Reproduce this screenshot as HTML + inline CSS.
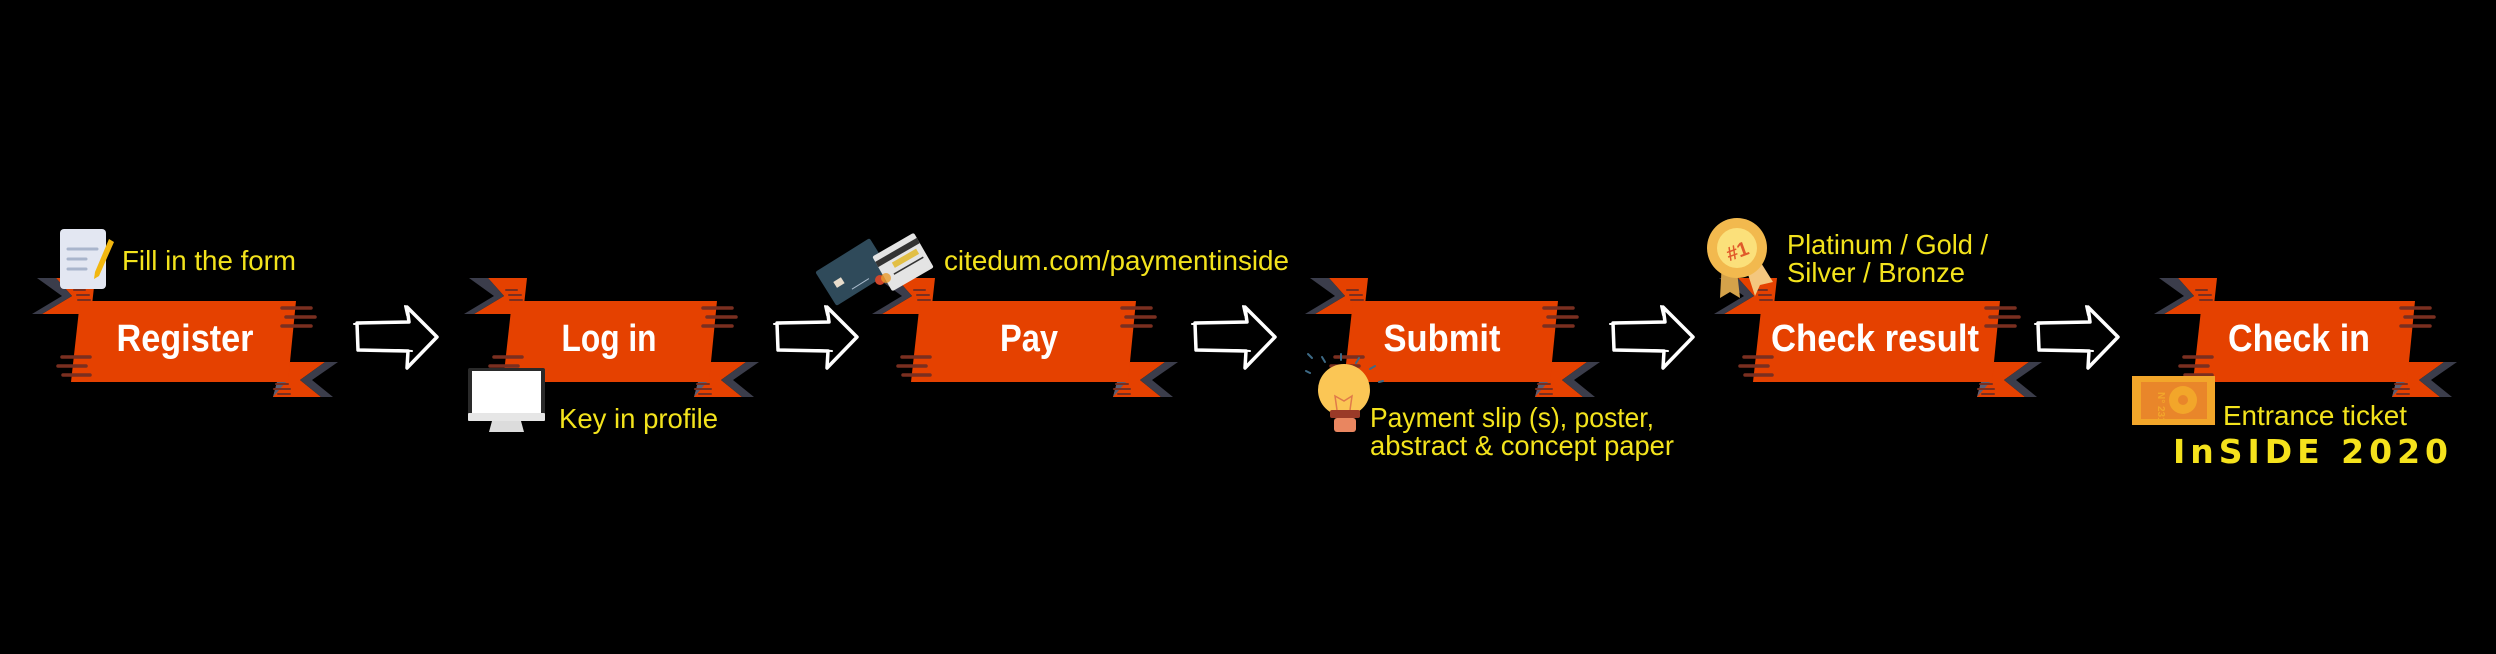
<!DOCTYPE html>
<html><head><meta charset="utf-8"><style>
html,body{margin:0;padding:0;background:#000;}
svg{display:block;}
.t{font-family:"Liberation Sans",sans-serif;font-weight:bold;fill:#fff;font-size:38px;text-anchor:middle;}
.y{font-family:"Liberation Sans",sans-serif;fill:#f3e31c;font-size:28px;}
.st{stroke:#7a2f20;stroke-width:3.5;stroke-linecap:round;}
.ar{fill:none;stroke:#fff;stroke-width:3.5;stroke-linejoin:round;stroke-linecap:round;}
</style></head><body>
<svg width="2496" height="654" viewBox="0 0 2496 654" xmlns="http://www.w3.org/2000/svg">
<defs>
<g id="L">
  <polygon points="-24,278 15,278 11,314 -38,314 -8,296" fill="#e54100"/>
  <polygon points="-43,278 -24,278 -8,296 -38,314 -48,314 -18,296" fill="#3b3d4b"/>
  <polygon points="0,314 11,314 -3,332" fill="#5b5e73"/>
  <line class="st" x1="-6" y1="290" x2="5" y2="290" style="stroke-width:2"/>
  <line class="st" x1="-3" y1="295" x2="9" y2="295" style="stroke-width:2"/>
  <line class="st" x1="-2" y1="300" x2="10" y2="300" style="stroke-width:2"/>
</g>
<g id="L2">
  <line class="st" x1="-18" y1="357" x2="10" y2="357"/>
  <line class="st" x1="-22" y1="366" x2="6" y2="366"/>
  <line class="st" x1="-17" y1="375" x2="10" y2="375"/>
</g>
<g id="R">
  <polygon points="-6,362 29,362 4,380 25,397 -23,397 -19,382" fill="#e54100"/>
  <polygon points="29,362 42,362 16,380 37,397 25,397 4,380" fill="#3b3d4b"/>
  <polygon points="-19,382 -10,382 -23,397" fill="#5b5e73"/>
</g>
<g id="R2">
  <line class="st" x1="-14" y1="308" x2="15" y2="308"/>
  <line class="st" x1="-10" y1="317" x2="19" y2="317"/>
  <line class="st" x1="-14" y1="326" x2="15" y2="326"/>
  <line class="st" x1="-20" y1="384" x2="-8" y2="384" style="stroke-width:2"/>
  <line class="st" x1="-22" y1="389" x2="-6" y2="389" style="stroke-width:2"/>
  <line class="st" x1="-18" y1="394" x2="-6" y2="394" style="stroke-width:2"/>
</g>
<g id="A">
  <path class="ar" d="M0,323 L52,322 L50,307 L80,337 L50,368 L51,351 L1,350 Z"/>
  <path class="ar" d="M-3,324 L14,323 M40,350 L55,351 M48,306 L50,315" style="stroke-width:2"/>
</g>
</defs>

<use href="#L" x="80"/><use href="#R" x="296"/>
<polygon points="80,301 296,301 288,382 71,382" fill="#e54100"/>
<use href="#L2" x="80"/><use href="#R2" x="296"/>
<text class="t" x="185" y="351" textLength="137" lengthAdjust="spacingAndGlyphs">Register</text>

<use href="#L" x="512"/><use href="#R" x="717"/>
<polygon points="512,301 717,301 709,382 503,382" fill="#e54100"/>
<use href="#L2" x="512"/><use href="#R2" x="717"/>
<text class="t" x="609" y="351" textLength="95" lengthAdjust="spacingAndGlyphs">Log in</text>

<use href="#L" x="920"/><use href="#R" x="1136"/>
<polygon points="920,301 1136,301 1128,382 911,382" fill="#e54100"/>
<use href="#L2" x="920"/><use href="#R2" x="1136"/>
<text class="t" x="1029" y="351" textLength="58" lengthAdjust="spacingAndGlyphs">Pay</text>

<use href="#L" x="1353"/><use href="#R" x="1558"/>
<polygon points="1353,301 1558,301 1550,382 1344,382" fill="#e54100"/>
<use href="#L2" x="1353"/><use href="#R2" x="1558"/>
<text class="t" x="1442" y="351" textLength="117" lengthAdjust="spacingAndGlyphs">Submit</text>

<use href="#L" x="1762"/><use href="#R" x="2000"/>
<polygon points="1762,301 2000,301 1992,382 1753,382" fill="#e54100"/>
<use href="#L2" x="1762"/><use href="#R2" x="2000"/>
<text class="t" x="1875" y="351" textLength="208" lengthAdjust="spacingAndGlyphs">Check result</text>

<use href="#L" x="2202"/><use href="#R" x="2415"/>
<polygon points="2202,301 2415,301 2407,382 2193,382" fill="#e54100"/>
<use href="#L2" x="2202"/><use href="#R2" x="2415"/>
<text class="t" x="2299" y="351" textLength="142" lengthAdjust="spacingAndGlyphs">Check in</text>

<use href="#A" x="357"/><use href="#A" x="777"/><use href="#A" x="1195"/><use href="#A" x="1613"/><use href="#A" x="2038"/>

<rect x="60" y="229" width="46" height="60" rx="4" fill="#e3e7f2"/>
<line x1="68" y1="249" x2="97" y2="249" stroke="#a9b5cc" stroke-width="3" stroke-linecap="round"/>
<line x1="68" y1="259" x2="86" y2="259" stroke="#a9b5cc" stroke-width="3" stroke-linecap="round"/>
<line x1="68" y1="269" x2="86" y2="269" stroke="#a9b5cc" stroke-width="3" stroke-linecap="round"/>
<polygon points="109,239 114,242 99,276 94,279 95,272" fill="#f2b70f"/>
<text class="y" x="122" y="270" textLength="174" lengthAdjust="spacingAndGlyphs">Fill in the form</text>

<rect x="468" y="368" width="77" height="52" rx="2" fill="#2a2a2a"/>
<rect x="472" y="371" width="69" height="44" fill="#fff"/>
<rect x="468" y="413" width="77" height="8" rx="1" fill="#e6e6e6"/>
<polygon points="492,421 521,421 524,432 489,432" fill="#dcdcdc"/>
<text class="y" x="559" y="428" textLength="159" lengthAdjust="spacingAndGlyphs">Key in profile</text>

<g transform="translate(853,272) rotate(-32)">
  <rect x="-32" y="-20" width="64" height="40" rx="2" fill="#2f4a5a"/>
  <rect x="-22" y="-2" width="9" height="7" fill="#e8dccb"/>
  <line x1="-10" y1="14" x2="10" y2="14" stroke="#aabbcc" stroke-width="1"/>
</g>
<g transform="translate(903,262) rotate(-30)">
  <rect x="-24" y="-20" width="48" height="40" rx="2" fill="#e4e4e4"/>
  <rect x="-24" y="-14" width="48" height="6" fill="#333"/>
  <rect x="-10" y="-5" width="28" height="6" fill="#e2bf45"/>
  <line x1="-14" y1="6" x2="20" y2="6" stroke="#333" stroke-width="1.5"/>
</g>
<circle cx="880" cy="280" r="5" fill="#d0462a"/><circle cx="886" cy="278" r="5" fill="#e89a2a" opacity="0.8"/>
<text class="y" x="944" y="270" textLength="345" lengthAdjust="spacingAndGlyphs">citedum.com/paymentinside</text>

<g stroke="#3d6a86" stroke-width="2" stroke-linecap="round">
<line x1="1310" y1="373" x2="1306" y2="371"/><line x1="1312" y1="358" x2="1308" y2="354"/>
<line x1="1325" y1="362" x2="1322" y2="357"/><line x1="1341" y1="360" x2="1341" y2="354"/>
<line x1="1356" y1="363" x2="1359" y2="358"/><line x1="1370" y1="369" x2="1375" y2="366"/>
<line x1="1379" y1="382" x2="1383" y2="381"/>
</g>
<circle cx="1344" cy="390" r="26" fill="#fbc655"/>
<path d="M1337,410 L1335,396 L1344,401 L1352,396 L1350,410" fill="none" stroke="#e07a4a" stroke-width="1.5"/>
<rect x="1330" y="410" width="30" height="8" rx="2" fill="#9a3a28"/>
<rect x="1334" y="418" width="22" height="14" rx="3" fill="#e98660"/>
<text class="y" x="1370" y="427" textLength="284" lengthAdjust="spacingAndGlyphs">Payment slip (s), poster,</text>
<text class="y" x="1370" y="455" textLength="304" lengthAdjust="spacingAndGlyphs">abstract &amp; concept paper</text>

<polygon points="1722,260 1736,262 1740,298 1730,292 1720,298" fill="#d4a24a"/>
<polygon points="1744,262 1758,258 1773,282 1760,285 1755,296" fill="#f4c77e"/>
<circle cx="1737" cy="248" r="30" fill="#f2b94e"/>
<circle cx="1737" cy="248" r="20" fill="#fbe07a"/>
<text x="1737" y="258" font-family="Liberation Sans,sans-serif" font-size="20" font-weight="bold" fill="#e05a2a" text-anchor="middle" transform="rotate(-20 1737 250)">#1</text>
<text class="y" x="1787" y="254" textLength="201" lengthAdjust="spacingAndGlyphs">Platinum / Gold /</text>
<text class="y" x="1787" y="282" textLength="178" lengthAdjust="spacingAndGlyphs">Silver / Bronze</text>

<rect x="2132" y="376" width="83" height="49" fill="#f2a62a"/>
<rect x="2141" y="382" width="66" height="37" fill="#e9862a"/>
<circle cx="2183" cy="400" r="14" fill="#f2a62a"/>
<circle cx="2183" cy="400" r="5" fill="#e9862a"/>
<text x="2158" y="392" font-family="Liberation Sans,sans-serif" font-size="10" font-weight="bold" fill="#f2a62a" transform="rotate(90 2158 392)">N° 231</text>
<text class="y" x="2223" y="425" textLength="184" lengthAdjust="spacingAndGlyphs">Entrance ticket</text>
<text x="2173" y="463" font-family="'DejaVu Sans','Liberation Sans',sans-serif" font-weight="bold" font-size="33" fill="#f5e21c" textLength="275" lengthAdjust="spacing">InSIDE 2020</text>
</svg>
</body></html>
